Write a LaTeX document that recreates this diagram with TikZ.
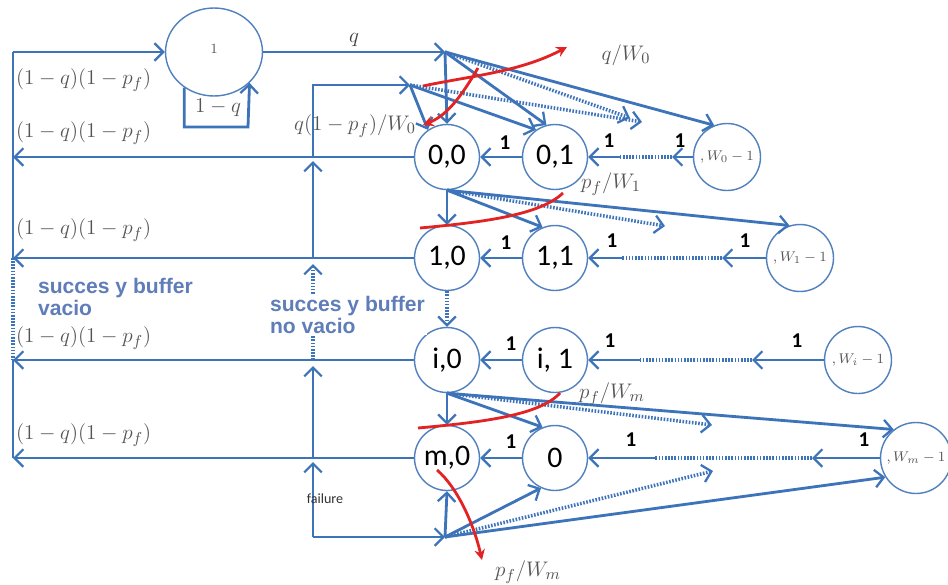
\documentclass[tikz,border=0pt]{standalone}
\usepackage{fontspec}
\newfontfamily\carl{Carlito}
\newfontfamily\lsans{Liberation Sans}
\usetikzlibrary{arrows.meta,shapes.geometric}
\definecolor{lblue}{RGB}{60,115,185}
\definecolor{nblue}{RGB}{80,128,190}
\definecolor{mgray}{RGB}{85,85,85}
\definecolor{tblue}{RGB}{95,125,185}
\definecolor{rcol}{RGB}{225,35,35}
\begin{document}
\begin{tikzpicture}[x=0.02cm,y=-0.02cm,
  ln/.style={draw=lblue,line width=1.6pt},
  arr/.style={ln,-{Straight Barb[length=5pt,width=10pt,line width=1.3pt]}},
  dts/.style={draw=lblue,line width=2pt,dash pattern=on 0.9pt off 0.9pt},
  darr/.style={dts,-{Straight Barb[length=5pt,width=10pt,line width=1.3pt]}},
  st/.style={circle,draw=nblue,line width=0.8pt,fill=white,minimum size=1.3cm,inner sep=0pt,font=\carl\fontsize{17}{17}\selectfont},
  wst/.style={circle,draw=nblue,line width=0.8pt,fill=white,minimum size=1.34cm,inner sep=0pt,text=mgray,font=\fontsize{8}{8}\selectfont},
  one/.style={font=\carl\bfseries\fontsize{12}{12}\selectfont},
  ml/.style={text=mgray,font=\fontsize{12.5}{14}\selectfont,inner sep=1pt},
  rc/.style={draw=rcol,line width=1.6pt},
  rca/.style={rc,-{Stealth[length=6pt,width=6pt]}},
  stxt/.style={text=tblue,font=\lsans\bfseries\fontsize{12}{12.5}\selectfont,align=left,inner sep=1pt}
]
\useasboundingbox[fill=white] (0,0) rectangle (948,585);

% junction coordinates
\coordinate (TL) at (13,52);
\coordinate (L0) at (13,157);
\coordinate (L1) at (13,258);
\coordinate (Li) at (13,360);
\coordinate (Lm) at (13,458);
\coordinate (A) at (445,52);
\coordinate (B) at (410,85);
\coordinate (V0) at (313,85);
\coordinate (V1) at (313,157);
\coordinate (V2) at (313,258);
\coordinate (V3) at (313,360);
\coordinate (V4) at (313,458);
\coordinate (V5) at (313,537);
\coordinate (x1) at (313,161);
\coordinate (x2) at (313,264);
\coordinate (x3) at (313,366);
\coordinate (x4) at (313,462);
\coordinate (D) at (445,537);
\coordinate (lpb) at (248,127);

% states
\node[ellipse,draw=nblue,line width=0.8pt,minimum width=1.94cm,minimum height=1.76cm,inner sep=0pt,font=\fontsize{8}{8}\selectfont,text=mgray] (s1) at (214,52) {\raisebox{4pt}{1}};
\node[st] (n00) at (447,157) {0,0};
\node[st] (n01) at (555,157) {0,1};
\node[wst] (n0W) at (727,157) {$,W_0-1$};
\node[st] (n10) at (447,258) {1,0};
\node[st] (n11) at (555,258) {1,1};
\node[wst] (n1W) at (800,258) {$,W_1-1$};
\node[st] (ni0) at (447,360) {i,0};
\node[st] (ni1) at (555,360) {i, 1};
\node[wst] (niW) at (858,360) {$,W_i-1$};
\node[st] (nm0) at (447,458) {m,0};
\node[st] (nz) at (555,458) {0};
\node[wst,minimum size=1.42cm] (nmW) at (916,458) {$,W_m-1$};

% left return bus
\draw[arr] (TL) -- (s1.west);
\draw[ln] (TL) -- (L1);
\draw[dts] (L1) -- (Li);
\draw[ln] (Li) -- (Lm);
\draw[arr] (n00) -- (L0);
\draw[arr] (n10) -- (L1);
\draw[arr] (ni0) -- (Li);
\draw[arr] (nm0) -- (Lm);

% state 1
\draw[arr] (s1.east) -- node[above=1pt,ml,text=black!75]{$q$} (A);
\draw[arr] (s1.230) |- (lpb) -- (s1.319);
\node[ml] (lq) at (218,108) {$1-q$};

% failure bus
\draw[arr] (V5) -- (D);
\draw[arr] (V5) -- (x4);
\draw[arr] (V4) -- (x3);
\draw[darr] (V3) -- (x2);
\draw[arr] (V2) -- (x1);
\draw[arr] (V1) -- (V0) -- (B);

% top fan-out
\draw[arr] (A) -- (n00.north);
\draw[arr] (A) -- (n01.105);
\draw[darr] (A) -- (630,118);
\draw[arr] (A) -- (n0W.112);
\draw[arr] (B) -- (n00.125);
\draw[arr] (B) -- (n01.125);
\draw[darr] (B) -- (642,122);

% row 0 -> row 1
\draw[arr] (n00.south) -- (n10.north);
\draw[arr] (n00.south) -- (n11.112);
\draw[darr] (n00.south) -- (665,226);
\draw[arr] (n00.south) -- (n1W.108);
\draw[darr] (n10.south) -- (ni0.north);

% row i -> row m
\draw[arr] (ni0.south) -- (nm0.north);
\draw[arr] (ni0.south) -- (nz.112);
\draw[darr] (ni0.south) -- (712,425);
\draw[arr] (ni0.south) -- (nmW.128);

% bottom fan-in
\draw[arr] (D) -- (nm0.south);
\draw[arr] (D) -- (nz.245);
\draw[darr] (D) -- (713,471);
\draw[arr] (D) -- (nmW.212);

% horizontal chains
\draw[arr] (n01) -- (n00);
\draw[arr] (620,157) -- (n01);
\draw[dts] (672,157) -- (620,157);
\draw[arr] (n0W) -- (672,157);
\draw[arr] (n11) -- (n10);
\draw[arr] (622,258) -- (n11);
\draw[dts] (722,258) -- (622,258);
\draw[arr] (n1W) -- (722,258);
\draw[arr] (ni1) -- (ni0);
\draw[arr] (640,360) -- (ni1);
\draw[dts] (752,360) -- (640,360);
\draw[arr] (niW) -- (752,360);
\draw[arr] (nz) -- (nm0);
\draw[arr] (655,458) -- (nz);
\draw[dts] (812,458) -- (655,458);
\draw[arr] (nmW) -- (812,458);

\node[one] at (505,143) {1};
\node[one] at (609,141) {1};
\node[one] at (680,141) {1};
\node[one] at (506,243) {1};
\node[one] at (612,241) {1};
\node[one] at (745,241) {1};
\node[one] at (511,344) {1};
\node[one] at (610,341) {1};
\node[one] at (797,341) {1};
\node[one] at (511,442) {1};
\node[one] at (631,440) {1};
\node[one] at (864,440) {1};

% red cuts
\draw[rca] (423,86) .. controls (470,76) and (520,72) .. (567,47);
\draw[rca] (478,68) .. controls (462,95) and (448,115) .. (423,125);
\draw[rc] (420,228) .. controls (485,222) and (540,215) .. (563,193);
\draw[rc] (418,428) .. controls (485,422) and (540,415) .. (560,393);
\draw[rca] (437,470) .. controls (458,488) and (474,525) .. (482,560);

% math labels
\foreach \yy in {80,133,230,338,435}
  \node[ml,anchor=west] at (14,\yy) {$(1-q)(1-p_f)$};
\node[ml,anchor=east] at (418,126) {$q(1-p_f)/W_0$};
\node[ml] at (626,55) {$q/W_0$};
\node[ml] at (611,184) {$p_f/W_1$};
\node[ml] at (612,394) {$p_f/W_m$};
\node[ml] at (528,572) {$p_f/W_m$};

% texts
\node[stxt,anchor=north west] at (36,276) {succes y buffer\\vacio};
\node[stxt,anchor=north west,fill=white] at (268,294) {succes y buffer\\no vacio};
\node[font=\carl\fontsize{8}{8}\selectfont,text=black!80] at (325,499) {failure};
\end{tikzpicture}
\end{document}
